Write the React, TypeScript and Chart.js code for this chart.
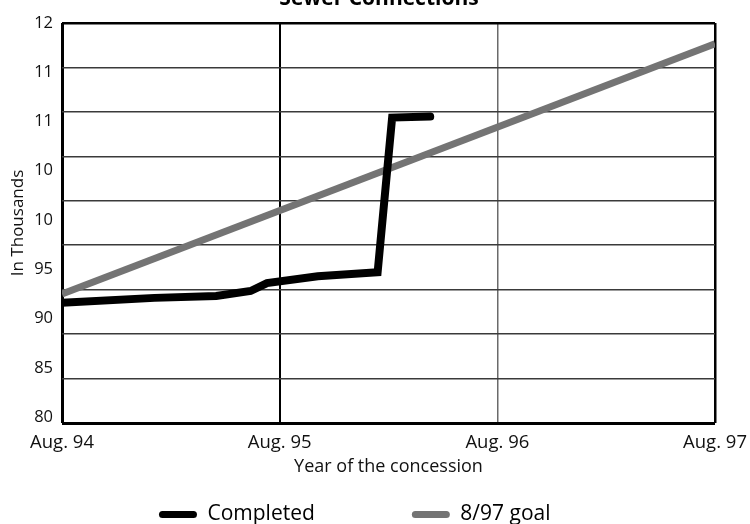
import React, { useEffect, useRef } from 'react';
import { Chart, registerables } from 'chart.js';

Chart.register(...registerables);

// Months since Aug. 1994
const xTickMonths = [0, 12, 24, 36];
const xTickLabels = ['Aug. 94', 'Aug. 95', 'Aug. 96', 'Aug. 97'];

// Y labels as printed in the original (truncated)
const yTickValues = [80, 85, 90, 95, 100, 105, 110, 115, 120];
const yTickLabels = ['80', '85', '90', '95', '10', '10', '11', '11', '12'];

// horizontal rule lines of the original frame (10 rules)
const gridRuleCount = 9;

const completedMonths = [0, 5.1, 8.5, 10.4, 11.3, 14.1, 17.4, 18.2, 20.3];
const completedValues = [91.6, 92.1, 92.3, 92.8, 93.6, 94.3, 94.7, 110.4, 110.5];

const goalMonths = [0, 36];
const goalValues = [92.5, 117.9];

const FONT = "'Open Sans', 'Noto Sans', sans-serif";

const spacer = () => ({
  text: '',
  fillStyle: 'rgba(0,0,0,0)',
  strokeStyle: 'rgba(0,0,0,0)',
  lineWidth: 0,
  hidden: false,
});

export default function App() {
  const ref = useRef<HTMLCanvasElement | null>(null);

  useEffect(() => {
    if (!ref.current) return;
    const chart = new Chart(ref.current, {
      type: 'line',
      data: {
        datasets: [
          {
            label: 'Completed',
            data: completedMonths.map((m, i) => ({ x: m, y: completedValues[i] })),
            borderColor: '#000000',
            backgroundColor: '#000000',
            borderWidth: 8,
            pointRadius: 0,
            tension: 0,
            borderCapStyle: 'round',
            borderJoinStyle: 'miter',
            yAxisID: 'y',
          },
          {
            label: '8/97 goal',
            data: goalMonths.map((m, i) => ({ x: m, y: goalValues[i] })),
            borderColor: '#747474',
            backgroundColor: '#747474',
            borderWidth: 7,
            pointRadius: 0,
            tension: 0,
            yAxisID: 'y',
          },
        ],
      },
      options: {
        animation: false,
        responsive: true,
        maintainAspectRatio: false,
        layout: { padding: { left: 8, right: 0, top: 0, bottom: 0 } },
        plugins: {
          title: {
            display: true,
            text: 'Sewer Connections',
            color: '#000',
            font: { family: FONT, size: 21, weight: 'bold', lineHeight: 1.2 },
            padding: { top: 0, bottom: 11.8 },
          },
          tooltip: { enabled: false },
          legend: {
            display: true,
            position: 'bottom',
            labels: {
              color: '#111',
              font: { family: FONT, size: 21 },
              boxWidth: 38,
              boxHeight: 7,
              padding: 0,
              generateLabels: () => [
                {
                  text: 'Completed',
                  fillStyle: '#000000',
                  strokeStyle: '#000000',
                  lineWidth: 0,
                  borderRadius: 3.5,
                  hidden: false,
                  datasetIndex: 0,
                },
                spacer(),
                spacer(),
                {
                  text: '8/97 goal',
                  fillStyle: '#747474',
                  strokeStyle: '#747474',
                  lineWidth: 0,
                  borderRadius: 3.5,
                  hidden: false,
                  datasetIndex: 1,
                },
                spacer(),
              ],
            },
          },
        },
        scales: {
          x: {
            type: 'linear',
            min: xTickMonths[0],
            max: xTickMonths[xTickMonths.length - 1],
            afterBuildTicks: (axis: any) => {
              axis.ticks = xTickMonths.map((v) => ({ value: v }));
            },
            afterFit: (axis: any) => {
              axis.height = 81;
              axis.paddingRight = 35;
            },
            ticks: {
              autoSkip: false,
              maxRotation: 0,
              minRotation: 0,
              padding: 9,
              color: '#111',
              font: { family: FONT, size: 18.5, lineHeight: 1.2 },
              callback: (_v: any, i: number) => xTickLabels[i],
            },
            grid: {
              drawTicks: false,
              color: (ctx: any) => (ctx.index === 2 ? '#6a6a6a' : '#000000'),
              lineWidth: (ctx: any) => (ctx.index === 0 ? 3 : ctx.index === 2 ? 1.5 : ctx.index === 3 ? 2.5 : 2),
            },
            border: { display: false },
            title: {
              display: true,
              text: 'Year of the concession',
              color: '#111',
              font: { family: FONT, size: 18, lineHeight: 1.2 },
              padding: { top: 6, bottom: 26 },
            },
          },
          yGrid: {
            type: 'linear',
            position: 'left',
            weight: 0,
            min: 0,
            max: gridRuleCount,
            afterFit: (axis: any) => {
              axis.width = 0;
            },
            ticks: { display: false, stepSize: 1 },
            grid: {
              drawTicks: false,
              color: (ctx: any) =>
                ctx.index === 0 || ctx.index === gridRuleCount ? '#000000' : '#3a3a3a',
              lineWidth: (ctx: any) =>
                ctx.index === 0 ? 3 : ctx.index === gridRuleCount ? 2.5 : 1.5,
            },
            border: { display: false },
          },
          y: {
            type: 'linear',
            position: 'left',
            weight: 1,
            min: 79.4,
            max: 120,
            afterBuildTicks: (axis: any) => {
              axis.ticks = yTickValues.map((v) => ({ value: v }));
            },
            afterFit: (axis: any) => {
              axis.width = 54;
            },
            ticks: {
              padding: 9,
              color: '#111',
              font: { family: FONT, size: 16.5, lineHeight: 1.2 },
              callback: (_v: any, i: number) => yTickLabels[i],
            },
            grid: { display: false, drawTicks: false },
            border: { display: false },
            title: {
              display: true,
              text: 'In Thousands',
              color: '#111',
              font: { family: FONT, size: 17, lineHeight: 1.2 },
              padding: { top: 0, bottom: 8 },
            },
          },
        },
      },
    });
    return () => chart.destroy();
  }, []);

  return (
    <div style={{ position: 'fixed', top: -14, left: 0, width: 750, height: 549, background: '#fff' }}>
      <canvas ref={ref} />
    </div>
  );
}
